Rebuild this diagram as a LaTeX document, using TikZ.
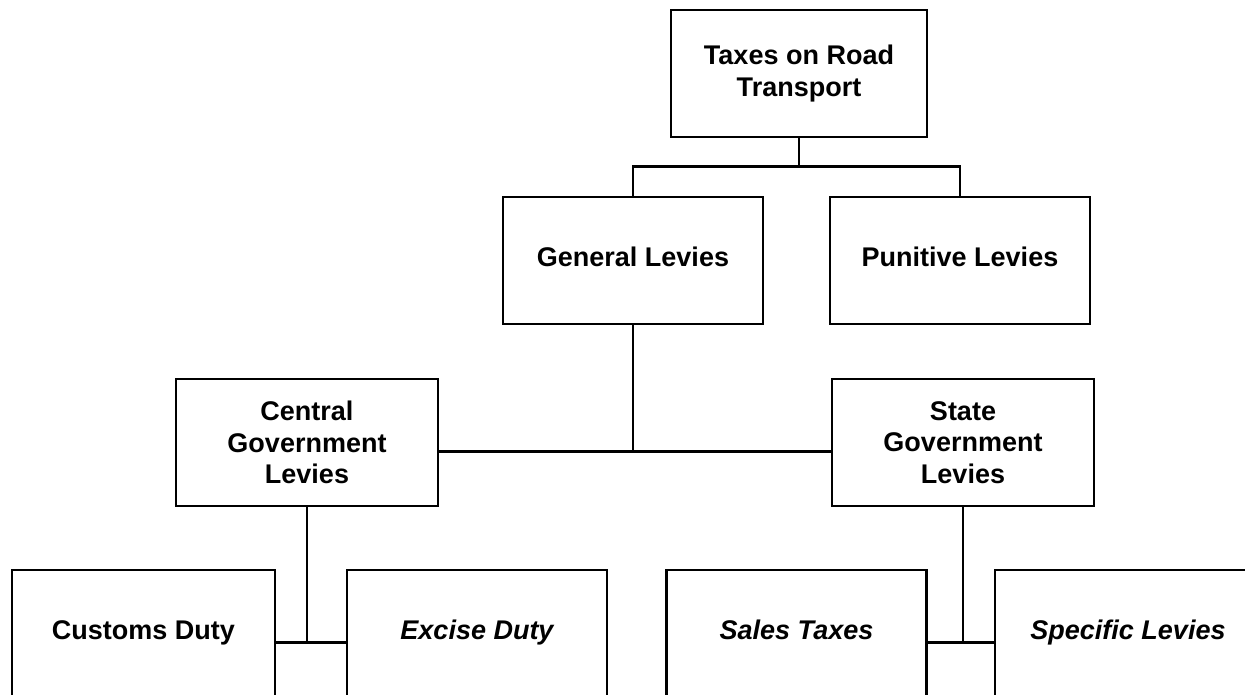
\documentclass[tikz,border=0pt]{standalone}
\usepackage{fontspec}
\setmainfont{Liberation Sans}
\usetikzlibrary{calc}
\begin{document}
\begin{tikzpicture}[x=1pt,y=-1pt,
  box/.style={draw, line width=2.6pt, rectangle, inner sep=0pt, align=center,
    minimum width=260pt, minimum height=127pt,
    font=\fontsize{27}{31.5}\selectfont\bfseries},
  itbox/.style={box, font=\fontsize{27}{31.5}\selectfont\bfseries\itshape},
  oneline/.style={execute at begin node=\strut},
  conn/.style={line width=2.6pt}]
\useasboundingbox (0,0) rectangle (1245,694);
\fill[white] (0,0) rectangle (1245,694);
% level 1
\node[box, minimum width=256pt] (top) at (799,73.5) {Taxes on Road\\Transport};
% level 2
\node[box, oneline] (gen) at (633,260.5) {General Levies};
\node[box, oneline] (pun) at (960,260.5) {Punitive Levies};
% level 3
\node[box, minimum width=262pt] (cen) at (307,442.5) {Central\\Government\\Levies};
\node[box, minimum width=262pt] (sta) at (963,442.5) {State\\Government\\Levies};
% level 4
\node[box, oneline, minimum width=263pt] (cus) at (143.5,633.5) {Customs Duty};
\node[itbox, oneline] (exc) at (477,633.5) {Excise Duty};
\node[itbox, oneline] (sal) at (796.5,633.5) {Sales Taxes};
\node[itbox, oneline, minimum width=266pt] (spe) at (1128,633.5) {Specific Levies};
% connectors
\coordinate (j1) at ($(top.south)+(0,28)$);
\draw[conn] (top.south) -- (j1);
\draw[conn] (gen.north) |- (j1) -| (pun.north);
\coordinate (j2) at ($(gen.south)+(0,126)$);
\draw[conn] (gen.south) -- (j2);
\draw[conn] (cen.east |- j2) -- (sta.west |- j2);
\coordinate (j3) at ($(cen.south)+(0,135)$);
\draw[conn] (cen.south) -- (j3);
\draw[conn] (cus.east |- j3) -- (exc.west |- j3);
\coordinate (j4) at ($(sta.south)+(0,135)$);
\draw[conn] (sta.south) -- (j4);
\draw[conn] (sal.east |- j4) -- (spe.west |- j4);
\end{tikzpicture}
\end{document}
